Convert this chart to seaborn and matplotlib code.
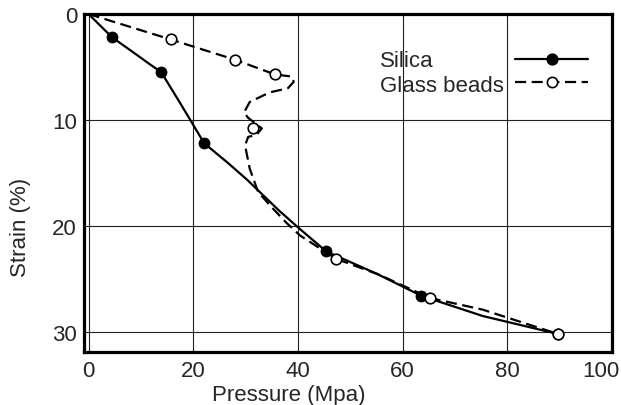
import pandas as pd
import matplotlib
matplotlib.use("Agg")
import matplotlib.pyplot as plt
import matplotlib.transforms as mtransforms
import seaborn as sns
from matplotlib.lines import Line2D

# measured points (markers)
silica_p = [4.5, 13.9, 22.1, 45.4, 63.6, 89.7]
silica_s = [2.2, 5.5, 12.2, 22.4, 26.6, 30.2]
glass_p = [15.7, 27.9, 35.6, 31.5, 47.3, 65.2, 89.7]
glass_s = [2.4, 4.3, 5.7, 10.8, 23.1, 26.8, 30.2]

# hand-drawn curves
silica_curve_p = [0, 4.5, 8.5, 11.6, 13.9, 17.5, 22.1, 26.5, 30.2, 36.5, 40.4, 45.4, 55.0, 63.6, 75.3, 89.7]
silica_curve_s = [0, 2.2, 3.6, 4.7, 5.5, 8.4, 12.2, 14.0, 15.6, 18.6, 20.3, 22.4, 24.5, 26.6, 28.5, 30.2]
glass_curve_p = [0, 15.7, 27.9, 35.6, 38.8, 39.2, 38.1, 34.6, 30.8, 29.7, 30.5, 32.1, 33.1,
                 32.1, 30.5, 29.9, 30.8, 32.4, 35.3, 37.8, 40.4, 47.3, 55.5, 65.2, 75.3, 89.7]
glass_curve_s = [0, 2.4, 4.3, 5.7, 5.9, 6.4, 7.0, 7.4, 8.3, 9.3, 9.8, 10.4, 10.8,
                 11.4, 11.6, 12.4, 14.6, 16.8, 18.4, 19.7, 20.9, 23.1, 24.6, 26.8, 27.9, 30.2]

labels = ["Silica", "Glass beads"]

sns.set_style("white")
plt.rcParams["font.family"] = ["Liberation Sans", "DejaVu Sans"]
plt.rcParams["font.size"] = 16

fig = plt.figure(figsize=(6.21, 4.06), dpi=100)
ax = fig.add_axes([0.1353, 0.1305, 0.8502, 0.8325])

dash = (0, (5, 2.5))
sc = pd.DataFrame({"p": silica_curve_p, "s": silica_curve_s})
gc = pd.DataFrame({"p": glass_curve_p, "s": glass_curve_s})
sns.lineplot(data=sc, x="p", y="s", sort=False, estimator=None, color="black", lw=1.6, ax=ax)
sns.lineplot(data=gc, x="p", y="s", sort=False, estimator=None, color="black", lw=1.6,
             ax=ax, linestyle=dash)
sns.scatterplot(x=silica_p, y=silica_s, color="black", s=62, edgecolor="black", zorder=5, ax=ax)
sns.scatterplot(x=glass_p, y=glass_s, color="white", s=58, edgecolor="black", linewidth=1.2,
                zorder=5, ax=ax)

ax.set_xlim(-0.86, 100)
ax.set_ylim(31.9, 0)
ax.set_xticks([0, 20, 40, 60, 80, 100])
ax.set_yticks([0, 10, 20, 30])
ax.grid(True, color="#222222", lw=0.8)
ax.tick_params(length=0, labelsize=16)
ax.tick_params(axis="x", pad=6)
ax.tick_params(axis="y", pad=5)
for sp in ax.spines.values():
    sp.set_linewidth(2.3)
    sp.set_color("black")

# last x label sits a little left of its tick in the original
lab100 = ax.get_xticklabels()[-1]
lab100.set_transform(lab100.get_transform() + mtransforms.ScaledTranslation(-0.11, 0, fig.dpi_scale_trans))

ax.set_xlabel("Pressure (Mpa)", fontsize=16)
ax.set_ylabel("Strain (%)", fontsize=16)
ax.xaxis.set_label_coords(0.388, -0.095)
ax.yaxis.set_label_coords(-0.10, 0.373)

# legend: labels left-aligned, handles in a column on the right
for lab, yy in zip(labels, [4.35, 6.75]):
    ax.text(55.6, yy, lab, ha="left", va="center", fontsize=16)
handles = [
    Line2D([], [], color="black", lw=1.6, marker="o", ms=7.8, mfc="black", mec="black"),
    Line2D([], [], color="black", lw=1.6, ls=dash, marker="o", ms=7.4,
           mfc="white", mec="black", mew=1.2),
]
ax.legend(handles, ["", ""], loc="upper left", bbox_to_anchor=(0.816, 0.892),
          frameon=False, handlelength=3.3, handletextpad=0, borderpad=0,
          borderaxespad=0, labelspacing=0.08)

fig.savefig("out.png", dpi=100)
